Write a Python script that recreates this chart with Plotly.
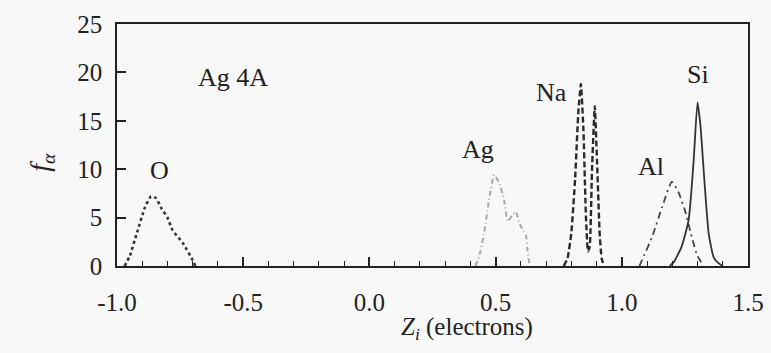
import plotly.graph_objects as go

# ---- data ----
o_x = [-0.97, -0.95, -0.92, -0.89, -0.865, -0.845, -0.825, -0.80, -0.78, -0.74, -0.70, -0.69]
o_y = [0.0, 1.0, 3.5, 6.0, 7.2, 7.0, 6.0, 5.0, 3.7, 2.4, 0.6, 0.0]

ag_x = [0.42, 0.435, 0.455, 0.474, 0.494, 0.514, 0.534, 0.548, 0.565, 0.58, 0.595, 0.61, 0.62, 0.627, 0.635]
ag_y = [0.0, 1.0, 3.5, 6.8, 9.4, 8.6, 6.8, 4.6, 5.2, 5.6, 4.4, 3.6, 3.2, 1.5, 0.0]

na_x = [0.77, 0.785, 0.80, 0.815, 0.828, 0.838, 0.848, 0.858, 0.866, 0.873, 0.882, 0.893, 0.903, 0.912, 0.92, 0.93]
na_y = [0.0, 0.8, 3.4, 9.0, 16.0, 18.8, 14.0, 5.0, 1.5, 2.0, 10.0, 16.5, 10.0, 3.5, 0.8, 0.0]

al_x = [1.07, 1.08, 1.12, 1.16, 1.198, 1.225, 1.253, 1.277, 1.30, 1.312, 1.32]
al_y = [0.0, 0.6, 3.0, 6.1, 8.7, 7.6, 5.5, 3.0, 1.0, 0.5, 0.0]

si_x = [1.19, 1.206, 1.237, 1.265, 1.285, 1.30, 1.312, 1.324, 1.344, 1.364, 1.383, 1.40]
si_y = [0.0, 0.4, 2.0, 4.8, 11.0, 16.9, 14.4, 10.0, 3.4, 0.9, 0.3, 0.0]

x_ticks = [-1.0, -0.5, 0.0, 0.5, 1.0, 1.5]
x_tick_labels = ["-1.0", "-0.5", "0.0", "0.5", "1.0", "1.5"]
y_ticks = [0, 5, 10, 15, 20, 25]

label_texts = ["Ag 4A", "O", "Ag", "Na", "Al", "Si"]
label_x = [-0.54, -0.83, 0.43, 0.723, 1.116, 1.302]
label_y = [19.5, 9.9, 12.0, 17.9, 10.3, 19.8]

FONT = "Liberation Serif, Times New Roman, serif"
INK = "#222222"

fig = go.Figure()
fig.add_trace(go.Scatter(x=o_x, y=o_y, mode="lines",
                         line=dict(color="#333333", width=2.6, dash="dot", shape="spline", smoothing=0.5)))
fig.add_trace(go.Scatter(x=ag_x, y=ag_y, mode="lines",
                         line=dict(color="#a8a8a8", width=2, dash="5px,3px,1px,3px", shape="spline", smoothing=0.5)))
fig.add_trace(go.Scatter(x=na_x, y=na_y, mode="lines",
                         line=dict(color="#2a2a2a", width=2.4, dash="6px,3px", shape="spline", smoothing=0.4)))
fig.add_trace(go.Scatter(x=al_x, y=al_y, mode="lines",
                         line=dict(color="#444444", width=1.8, dash="7px,4px,2px,4px", shape="spline", smoothing=0.5)))
fig.add_trace(go.Scatter(x=si_x, y=si_y, mode="lines",
                         line=dict(color="#333333", width=1.8, shape="spline", smoothing=0.5)))

for text, lx, ly in zip(label_texts, label_x, label_y):
    fig.add_annotation(x=lx, y=ly, text=text, showarrow=False,
                       font=dict(family=FONT, size=26, color=INK))

fig.add_annotation(xref="paper", yref="paper", x=0.555, y=-0.258, yanchor="middle",
                   text="<i>Z<sub>i</sub></i> (electrons)", showarrow=False,
                   font=dict(family=FONT, size=25, color=INK))
fig.add_annotation(xref="paper", yref="paper", x=-0.15, y=0.43, textangle=-90,
                   text="<i>f<sub>α</sub></i>", showarrow=False,
                   font=dict(family=FONT, size=28, color=INK))

fig.update_layout(
    width=771, height=353, showlegend=False, template="none",
    margin=dict(l=117, r=23, t=24, b=87),
    paper_bgcolor="#f8f8f8", plot_bgcolor="rgba(0,0,0,0)",
    font=dict(family=FONT),
    xaxis=dict(range=[-1.0, 1.5], tickmode="array", tickvals=x_ticks, ticktext=x_tick_labels,
               ticks="inside", ticklen=9, tickwidth=1.5, tickcolor="#222222",
               showline=True, linecolor="#222222", linewidth=1.5, mirror=True,
               showgrid=False, zeroline=False, layer="above traces",
               minor=dict(tickmode="linear", tick0=0, dtick=0.1, ticks="inside", ticklen=5,
                          tickcolor="#222222", tickwidth=1.3, showgrid=False),
               ticklabelstandoff=13,
               tickfont=dict(family=FONT, size=25, color=INK)),
    yaxis=dict(range=[0, 25], tickmode="array", tickvals=y_ticks,
               ticks="inside", ticklen=9, tickwidth=1.5, tickcolor="#222222",
               showline=True, linecolor="#222222", linewidth=1.5, mirror=True,
               showgrid=False, zeroline=False, layer="above traces", ticklabelstandoff=8,
               tickfont=dict(family=FONT, size=25, color=INK)),
)

fig.write_html("out.html", config={"displayModeBar": False},
               post_script="document.body.style.margin='0px';")
